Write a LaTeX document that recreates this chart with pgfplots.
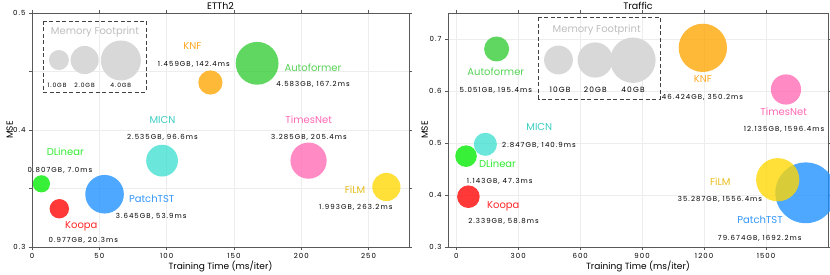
\documentclass[border=0pt]{standalone}
\usepackage{fontspec}
\setmainfont{Poppins}
\newfontfamily\spf[LetterSpace=15]{Poppins}
\usepackage{pgfplots}
\pgfplotsset{compat=1.18}

\definecolor{cAuto}{RGB}{51,204,51}
\definecolor{cDLin}{RGB}{0,236,0}
\definecolor{cKNF}{RGB}{255,165,0}
\definecolor{cMICN}{RGB}{64,224,208}
\definecolor{cTimes}{RGB}{255,105,180}
\definecolor{cFiLM}{RGB}{255,215,0}
\definecolor{cPatch}{RGB}{30,144,255}
\definecolor{cKoopa}{RGB}{255,0,0}
\definecolor{cLeg}{RGB}{216,216,216}
\definecolor{tAuto}{RGB}{85,210,85}
\definecolor{tDLin}{RGB}{50,235,50}
\definecolor{tKNF}{RGB}{255,170,40}
\definecolor{tMICN}{RGB}{60,205,195}
\definecolor{tTimes}{RGB}{255,105,180}
\definecolor{tFiLM}{RGB}{230,190,30}
\definecolor{tPatch}{RGB}{50,150,250}
\definecolor{tKoopa}{RGB}{255,40,40}
\definecolor{tMem}{RGB}{190,190,190}

\pgfplotsset{
  base/.style={
    scale only axis, anchor=south west,
    axis line style={draw=black!65, line width=0.8pt},
    grid=major, major grid style={black!7, line width=0.5pt},
    tick align=outside, major tick length=3pt,
    tick style={black!65, line width=0.6pt},
    ticklabel style={font=\spf\fontsize{7}{8}\selectfont},
    /pgf/number format/assume math mode=true,
    /pgf/number format/set thousands separator={},
    xlabel style={font=\fontsize{9}{11}\selectfont, anchor=mid},
    ylabel style={font=\fontsize{9}{11}\selectfont, anchor=mid},
    every axis title shift=0pt,
    title style={font=\fontsize{9.5}{11}\selectfont, anchor=base},
  },
  bub/.style n args={2}{only marks, mark=*, mark size=#2, color=#1,
    mark options={fill=#1, draw opacity=0, fill opacity=0.78}},
  legb/.style={only marks, mark=*, mark size=#1, color=cLeg,
    mark options={fill=cLeg, draw opacity=0}},
}

\newcommand{\nm}{\fontsize{10}{12}\selectfont}
\newcommand{\an}{\spf\fontsize{7}{8}\selectfont}

\begin{document}
\begin{tikzpicture}
\path[use as bounding box] (-32pt,-28pt) rectangle (798pt,247pt);

% ---------------- ETTh2 ----------------
\begin{axis}[base, at={(0pt,0pt)}, width=377pt, height=234pt,
  xmin=0, xmax=280, ymin=0.3, ymax=0.5,
  xtick={0,50,100,150,200,250},
  ytick={0.3,0.35,0.4,0.45,0.5}, yticklabels={0.3,,0.4,,0.5},
  title={ETTh2}, title style={at={(axis description cs:0.5,1.016)}},
  xlabel={Training Time (ms/iter)}, xlabel style={at={(axis description cs:0.5,-0.084)}},
  ylabel={MSE}, ylabel style={at={(axis description cs:-0.058,0.5)}},
]
% memory legend
\addplot[legb=10pt] coordinates {(20.0,0.4598)};
\addplot[legb=14.1pt] coordinates {(39.1,0.4598)};
\addplot[legb=20pt] coordinates {(66.0,0.4594)};
% bubbles (x = training time, y = MSE, radius from memory)
\addplot[bub={cAuto}{21.4pt}] coordinates {(167.2,0.457)};
\addplot[bub={cKNF}{12.1pt}] coordinates {(132.5,0.4406)};
\addplot[bub={cMICN}{15.9pt}] coordinates {(96.6,0.3738)};
\addplot[bub={cTimes}{18.1pt}] coordinates {(205.4,0.3738)};
\addplot[bub={cDLin}{8.6pt}] coordinates {(7.0,0.354)};
\addplot[bub={cPatch}{19.3pt}] coordinates {(53.9,0.3451)};
\addplot[bub={cKoopa}{9.7pt}] coordinates {(20.3,0.3327)};
\addplot[bub={cFiLM}{14.1pt}] coordinates {(263.2,0.3513)};
\end{axis}

% ---------------- Traffic ----------------
\begin{axis}[base, at={(416pt,0pt)}, width=380pt, height=234pt,
  xmin=-40, xmax=1800, ymin=0.3, ymax=0.75,
  xtick={0,300,600,900,1200,1500},
  ytick={0.3,0.4,0.5,0.6,0.7},
  title={Traffic}, title style={at={(axis description cs:0.5,1.016)}},
  xlabel={Training Time (ms/iter)}, xlabel style={at={(axis description cs:0.5,-0.084)}},
  ylabel={MSE}, ylabel style={at={(axis description cs:-0.06,0.5)}},
]
\addplot[legb=14.4pt] coordinates {(494.9,0.6596)};
\addplot[legb=17.6pt] coordinates {(672.5,0.6596)};
\addplot[legb=22.7pt] coordinates {(855.3,0.6592)};
\addplot[bub={cAuto}{12.5pt}] coordinates {(195.4,0.6808)};
\addplot[bub={cKNF}{24.15pt}] coordinates {(1194,0.683)};
\addplot[bub={cTimes}{15.1pt}] coordinates {(1596.4,0.6029)};
\addplot[bub={cMICN}{11.55pt}] coordinates {(140.9,0.4975)};
\addplot[bub={cDLin}{10.8pt}] coordinates {(47.3,0.4747)};
\addplot[bub={cKoopa}{11.3pt}] coordinates {(58.8,0.3967)};
\addplot[bub={cPatch}{30.4pt}] coordinates {(1692.2,0.4042)};
\addplot[bub={cFiLM}{21.6pt}] coordinates {(1556.4,0.4294)};
\end{axis}

% ---------------- annotations (pixel coordinates) ----------------
\begin{scope}[x=1pt, y=-1pt, shift={(-32pt,247pt)}]
  \tikzset{every node/.style={anchor=mid, inner sep=0pt}}
  % left legend
  \draw[black!75, line width=0.8pt, dash pattern=on 4pt off 2.5pt] (43,21) rectangle (146,92);
  \node[text=tMem] at (95,32) {\nm Memory Footprint};
  \node at (57,84.3) {\spf\fontsize{6}{7}\selectfont 1.0GB};
  \node at (84.5,84.3) {\spf\fontsize{6}{7}\selectfont 2.0GB};
  \node at (120.8,84.3) {\spf\fontsize{6}{7}\selectfont 4.0GB};
  % left labels
  \node[text=tKNF] at (192.5,46.7) {\nm KNF};
  \node at (193.8,63.3) {\an 1.459GB, 142.4ms};
  \node[text=tAuto] at (313,68.3) {\nm Autoformer};
  \node at (313,83.7) {\an 4.583GB, 167.2ms};
  \node[text=tMICN] at (162.5,120.7) {\nm MICN};
  \node at (162.5,136.7) {\an 2.535GB, 96.6ms};
  \node[text=tTimes] at (308.7,120.7) {\nm TimesNet};
  \node at (309,136.7) {\an 3.285GB, 205.4ms};
  \node[text=tDLin] at (65.3,152.7) {\nm DLinear};
  \node at (60,169.3) {\an 0.807GB, 7.0ms};
  \node[text=tPatch] at (151.7,199.7) {\nm PatchTST};
  \node at (151.2,216) {\an 3.645GB, 53.9ms};
  \node[text=tKoopa] at (81.3,225.3) {\nm Koopa};
  \node at (83.3,240) {\an 0.977GB, 20.3ms};
  \node[text=tFiLM] at (355,190.3) {\nm FiLM};
  \node at (355.8,206.7) {\an 1.993GB, 263.2ms};
  % right legend
  \draw[black!75, line width=0.8pt, dash pattern=on 4pt off 2.5pt] (538.7,17.3) rectangle (660,99);
  \node[text=tMem] at (596.7,29.3) {\nm Memory Footprint};
  \node at (560,89.3) {\spf\fontsize{7.5}{9}\selectfont 10GB};
  \node at (595.3,89.3) {\spf\fontsize{7.5}{9}\selectfont 20GB};
  \node at (633,89.3) {\spf\fontsize{7.5}{9}\selectfont 40GB};
  % right labels
  \node[text=tAuto] at (495.8,72.7) {\nm Autoformer};
  \node at (495.8,90) {\an 5.051GB, 195.4ms};
  \node[text=tKNF] at (703,79.3) {\nm KNF};
  \node at (702.5,96.7) {\an 46.424GB, 350.2ms};
  \node[text=tTimes] at (783.7,112.7) {\nm TimesNet};
  \node at (784,128.3) {\an 12.135GB, 1596.4ms};
  \node[text=tMICN] at (539.3,127.7) {\nm MICN};
  \node at (539,145) {\an 2.847GB, 140.9ms};
  \node[text=tDLin] at (497.5,165) {\nm DLinear};
  \node at (499.7,181) {\an 1.143GB, 47.3ms};
  \node[text=tKoopa] at (503.3,205.7) {\nm Koopa};
  \node at (503.5,220.7) {\an 2.339GB, 58.8ms};
  \node[text=tFiLM] at (720.3,182.7) {\nm FiLM};
  \node at (720,199) {\an 35.287GB, 1556.4ms};
  \node[text=tPatch] at (760,220.7) {\nm PatchTST};
  \node at (759.7,237.3) {\an 79.674GB, 1692.2ms};
\end{scope}
\end{tikzpicture}
\end{document}
